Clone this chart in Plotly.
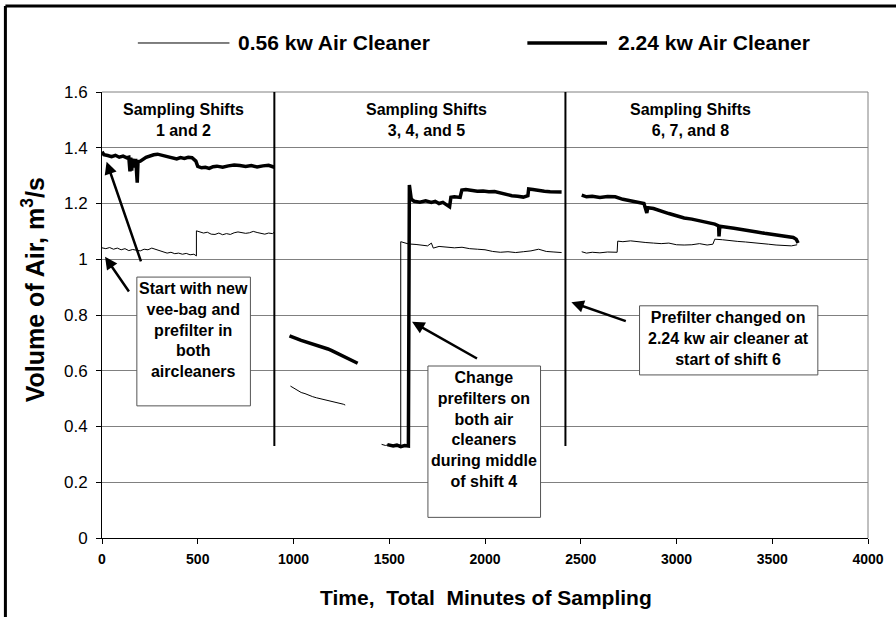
import plotly.graph_objects as go

# ---------------- data ----------------
# 0.56 kw air cleaner (thin line); None = gap between shift groups
small_x = [0, 20, 40, 60, 80, 100, 120, 140, 160, 180, 200, 220, 240, 260, 280, 300,
           320, 340, 360, 380, 400, 420, 440, 460, 480, 493, 493, 510, 530, 550, 570,
           590, 610, 630, 650, 670, 690, 710, 730, 750, 770, 790, 810, 830, 850, 870,
           890, 900, None,
           984, 1000, 1020, 1040, 1060, 1080, 1100, 1120, 1140, 1160, 1180, 1200, 1220,
           1240, 1260, 1270, None,
           1460, 1480, 1500, 1520, 1540, 1560, 1560, 1580, 1600, 1640, 1680, 1700, 1720,
           1730, 1760, 1800, 1840, 1880, 1920, 1960, 2000, 2040, 2080, 2120, 2160, 2200,
           2240, 2280, 2320, 2360, 2400, None,
           2505, 2530, 2560, 2600, 2640, 2690, 2693, 2720, 2760, 2800, 2840, 2880, 2920,
           2960, 3000, 3040, 3080, 3120, 3160, 3190, 3200, 3240, 3280, 3320, 3360, 3400,
           3440, 3480, 3520, 3560, 3600, 3630]
small_y = [1.041, 1.038, 1.042, 1.036, 1.040, 1.034, 1.038, 1.031, 1.035, 1.033, 1.030,
           1.036, 1.034, 1.040, 1.035, 1.030, 1.026, 1.022, 1.025, 1.020, 1.022, 1.018,
           1.021, 1.016, 1.018, 1.012, 1.102, 1.098, 1.094, 1.097, 1.090, 1.089, 1.094,
           1.088, 1.092, 1.089, 1.095, 1.098, 1.096, 1.093, 1.095, 1.100, 1.096, 1.092,
           1.090, 1.094, 1.092, 1.097, None,
           0.545, 0.538, 0.530, 0.522, 0.518, 0.512, 0.507, 0.503, 0.500, 0.496, 0.493,
           0.490, 0.487, 0.485, 0.480, 0.477, None,
           0.336, 0.332, 0.335, 0.331, 0.334, 0.333, 1.063, 1.058, 1.055, 1.053, 1.050,
           1.048, 1.058, 1.040, 1.046, 1.044, 1.041, 1.043, 1.038, 1.036, 1.034, 1.028,
           1.025, 1.027, 1.024, 1.027, 1.030, 1.036, 1.028, 1.026, 1.024, None,
           1.027, 1.022, 1.025, 1.023, 1.026, 1.025, 1.065, 1.063, 1.066, 1.062, 1.060,
           1.058, 1.056, 1.058, 1.052, 1.051, 1.052, 1.056, 1.051, 1.054, 1.072, 1.070,
           1.066, 1.064, 1.062, 1.060, 1.057, 1.054, 1.051, 1.050, 1.048, 1.052]

# 2.24 kw air cleaner (thick line)
large_x = [0, 10, 30, 50, 70, 90, 110, 130, 140, 146, 150, 155, 160, 172, 176, 184, 188,
           200, 230, 250, 270, 290, 310, 330, 350, 370, 390, 410, 430, 450, 470, 490,
           500, 520, 540, 560, 580, 600, 630, 660, 690, 720, 750, 780, 810, 840, 870,
           900, None,
           979, 1000, 1020, 1040, 1060, 1080, 1100, 1120, 1140, 1160, 1180, 1200, 1220,
           1240, 1260, 1280, 1300, 1320, 1335, None,
           1490, 1520, 1540, 1560, 1580, 1600, 1605, 1610, 1615, 1630, 1660, 1690, 1720,
           1740, 1760, 1780, 1800, 1815, 1822, 1840, 1870, 1879, 1900, 1930, 1960, 1990,
           2020, 2050, 2080, 2110, 2140, 2170, 2200, 2224, 2228, 2250, 2280, 2310, 2340,
           2370, 2400, None,
           2505, 2530, 2560, 2600, 2640, 2680, 2720, 2760, 2800, 2830, 2845, 2850, 2880,
           2920, 2960, 3000, 3040, 3080, 3120, 3160, 3200, 3220, 3222, 3226, 3260, 3300,
           3340, 3380, 3420, 3460, 3500, 3540, 3580, 3610, 3625, 3635]
large_y = [1.386, 1.375, 1.372, 1.368, 1.373, 1.366, 1.370, 1.364, 1.366, 1.315, 1.365,
           1.318, 1.360, 1.330, 1.360, 1.275, 1.350, 1.352, 1.366, 1.372, 1.375, 1.377,
           1.373, 1.370, 1.366, 1.362, 1.360, 1.365, 1.362, 1.366, 1.364, 1.352, 1.333,
           1.328, 1.330, 1.326, 1.332, 1.334, 1.330, 1.335, 1.338, 1.336, 1.333, 1.336,
           1.331, 1.335, 1.337, 1.330, None,
           0.725, 0.718, 0.714, 0.709, 0.705, 0.700, 0.696, 0.692, 0.689, 0.684, 0.678,
           0.672, 0.665, 0.657, 0.650, 0.643, 0.638, 0.632, 0.627, None,
           0.335, 0.330, 0.333, 0.328, 0.332, 0.330, 1.266, 1.240, 1.215, 1.208, 1.205,
           1.210, 1.204, 1.208, 1.200, 1.204, 1.195, 1.188, 1.222, 1.224, 1.222, 1.248,
           1.250, 1.246, 1.244, 1.245, 1.242, 1.243, 1.238, 1.232, 1.228, 1.226, 1.223,
           1.228, 1.252, 1.250, 1.246, 1.244, 1.242, 1.240, 1.241, None,
           1.230, 1.224, 1.226, 1.222, 1.225, 1.224, 1.215, 1.210, 1.206, 1.200, 1.166,
           1.185, 1.182, 1.172, 1.164, 1.156, 1.148, 1.144, 1.138, 1.134, 1.126, 1.120,
           1.082, 1.118, 1.116, 1.111, 1.107, 1.104, 1.098, 1.093, 1.089, 1.083, 1.080,
           1.078, 1.072, 1.058]

series_names = ["0.56 kw Air Cleaner", "2.24 kw Air Cleaner"]
shift_boundaries = [900, 2420]
shift_labels = ["Sampling Shifts<br>1 and 2", "Sampling Shifts<br>3, 4, and 5",
                "Sampling Shifts<br>6, 7, and 8"]
x_ticks = [0, 500, 1000, 1500, 2000, 2500, 3000, 3500, 4000]
y_ticks = [0, 0.2, 0.4, 0.6, 0.8, 1.0, 1.2, 1.4, 1.6]

# ---------------- styles ----------------
SANS = "Liberation Sans, Arial, sans-serif"
GRID = "#808080"

fig = go.Figure()
fig.add_trace(go.Scatter(x=small_x, y=small_y, mode="lines", name=series_names[0],
                         line=dict(color="black", width=1), connectgaps=False,
                         showlegend=False))
fig.add_trace(go.Scatter(x=large_x, y=large_y, mode="lines", name=series_names[1],
                         line=dict(color="black", width=3.5), connectgaps=False,
                         showlegend=False))

shapes = []
# shift separators
for b in shift_boundaries:
    shapes.append(dict(type="line", xref="x", yref="y", x0=b, x1=b, y0=0.33, y1=1.6,
                       line=dict(color="black", width=2), layer="between"))
# top and right frame of plot area
shapes.append(dict(type="line", xref="paper", yref="paper", x0=0, x1=1, y0=1, y1=1,
                   line=dict(color=GRID, width=1), layer="between"))
shapes.append(dict(type="line", xref="paper", yref="paper", x0=1, x1=1, y0=0, y1=1,
                   line=dict(color=GRID, width=1), layer="between"))
# annotation boxes
boxes = [(182, 775, 0.474, 0.936), (1702, 2290, 0.074, 0.617), (2807, 3738, 0.585, 0.833)]
for x0, x1, y0, y1 in boxes:
    shapes.append(dict(type="rect", xref="x", yref="y", x0=x0, x1=x1, y0=y0, y1=y1,
                       fillcolor="white", line=dict(color="#555555", width=1), layer="above"))
# outer frame (left and top edges visible)
shapes.append(dict(type="line", xref="paper", yref="paper", x0=-0.1261, x1=1.05,
                   y0=1.1928, y1=1.1928, line=dict(color="black", width=3)))
shapes.append(dict(type="line", xref="paper", yref="paper", x0=-0.1261, x1=-0.1261,
                   y0=-0.2, y1=1.1928, line=dict(color="black", width=3)))
# legend samples
shapes.append(dict(type="line", xref="paper", yref="paper", x0=0.0468, x1=0.1664,
                   y0=1.1099, y1=1.1099, line=dict(color="black", width=1)))
shapes.append(dict(type="line", xref="paper", yref="paper", x0=0.5553, x1=0.6593,
                   y0=1.1099, y1=1.1099, line=dict(color="black", width=3.5)))

ann = []
ann.append(dict(xref="paper", yref="paper", x=0.1743, y=1.1099, xanchor="left",
                yanchor="middle", text="<b>" + series_names[0] + "</b>", showarrow=False,
                font=dict(family=SANS, size=21, color="black")))
ann.append(dict(xref="paper", yref="paper", x=0.671, y=1.1099, xanchor="left",
                yanchor="middle", text="<b>" + series_names[1] + "</b>", showarrow=False,
                font=dict(family=SANS, size=21, color="black")))
for xc, t in zip([426, 1695, 3075], shift_labels):
    ann.append(dict(x=xc, y=1.501, text="<b>" + t + "</b>", showarrow=False,
                    font=dict(family=SANS, size=16, color="black")))
box_texts = [
    (479, 0.748, "Start with new<br>vee-bag and<br>prefilter in<br>both<br>aircleaners"),
    (1997, 0.389, "Change<br>prefilters on<br>both air<br>cleaners<br>during middle<br>of shift 4"),
    (3272, 0.717, "Prefilter changed on<br>2.24 kw air cleaner at<br>start of shift 6"),
]
for xc, yc, t in box_texts:
    ann.append(dict(x=xc, y=yc, text="<b>" + t + "</b>", showarrow=False,
                    font=dict(family=SANS, size=16, color="black")))
arrows = [  # (head x, head y, tail x, tail y)
    (24, 1.350, 206, 0.987),
    (16, 1.009, 146, 0.879),
    (1619, 0.776, 1966, 0.641),
    (2451, 0.846, 2743, 0.776),
]
for hx, hy, tx, ty in arrows:
    ann.append(dict(x=hx, y=hy, ax=tx, ay=ty, axref="x", ayref="y", text="",
                    showarrow=True, arrowhead=2, arrowsize=1, arrowwidth=2.5,
                    arrowcolor="black"))
# axis titles
ann.append(dict(xref="paper", yref="paper", x=(488 - 102) / 769, y=(538 - 597) / 446,
                text="<b>Time,  Total  Minutes of Sampling</b>", showarrow=False,
                xanchor="center", yanchor="middle",
                font=dict(family=SANS, size=21, color="black")))
ann.append(dict(xref="paper", yref="paper", x=(33 - 102) / 769, y=(538 - 290) / 446,
                text="<b>Volume of Air, m<sup>3</sup>/s</b>", showarrow=False,
                textangle=-90, xanchor="center", yanchor="middle",
                font=dict(family=SANS, size=25, color="black")))

fig.update_layout(
    width=896, height=617,
    margin=dict(l=102, r=25, t=92, b=79),
    paper_bgcolor="white", plot_bgcolor="white",
    shapes=shapes, annotations=ann, showlegend=False,
    xaxis=dict(range=[0, 4000], tickvals=x_ticks, ticktext=[str(v) for v in x_ticks],
               showgrid=False, zeroline=False, showline=True, linecolor="black",
               linewidth=1, ticks="outside", ticklen=5, tickcolor="black",
               ticklabelstandoff=3,
               tickfont=dict(family=SANS, size=14, color="black", weight="bold")),
    yaxis=dict(range=[0, 1.6], tickvals=y_ticks, ticktext=[f"{v:g}" for v in y_ticks],
               showgrid=True, gridcolor=GRID, gridwidth=1, zeroline=False,
               showline=True, linecolor="black", linewidth=1, ticks="outside",
               ticklen=5, tickcolor="black", ticklabelstandoff=5,
               tickfont=dict(family=SANS, size=17, color="black")),
)

fig.write_html("out.html", config={"displayModeBar": False},
               post_script="document.body.style.margin='0px';")
